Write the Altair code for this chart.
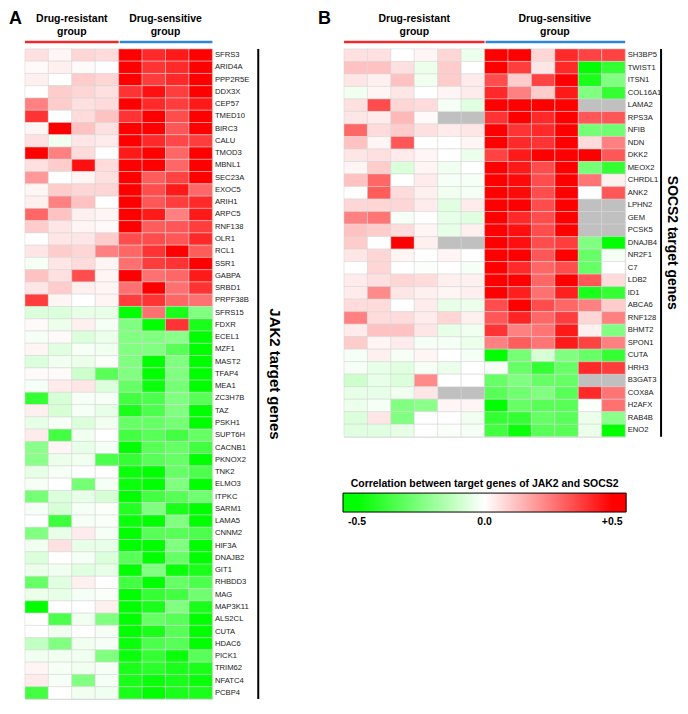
import altair as alt
import pandas as pd

FONT = "Liberation Sans"

# ---------------- Panel A data ----------------
A_genes = ["SFRS3", "ARID4A", "PPP2R5E", "DDX3X", "CEP57", "TMED10", "BIRC3", "CALU", "TMOD3",
           "MBNL1", "SEC23A", "EXOC5", "ARIH1", "ARPC5", "RNF138", "OLR1", "RCL1", "SSR1", "GABPA",
           "SRBD1", "PRPF38B", "SFRS15", "FDXR", "ECEL1", "MZF1", "MAST2", "TFAP4", "MEA1", "ZC3H7B",
           "TAZ", "PSKH1", "SUPT6H", "CACNB1", "PKNOX2", "TNK2", "ELMO3", "ITPKC", "SARM1", "LAMA5",
           "CNNM2", "HIF3A", "DNAJB2", "GIT1", "RHBDD3", "MAG", "MAP3K11", "ALS2CL", "CUTA", "HDAC6",
           "PICK1", "TRIM62", "NFATC4", "PCBP4"]
A_samples = ["R1", "R2", "R3", "R4", "S1", "S2", "S3", "S4"]
A_values = [
    [0.06, 0.02, 0.08, 0.07, 0.50, 0.42, 0.45, 0.50],
    [0.01, 0.03, 0.01, 0.00, 0.50, 0.40, 0.42, 0.50],
    [0.03, 0.00, 0.10, 0.08, 0.50, 0.38, 0.42, 0.50],
    [0.00, 0.10, 0.08, 0.06, 0.40, 0.47, 0.38, 0.50],
    [0.25, 0.10, 0.06, 0.07, 0.50, 0.42, 0.38, 0.45],
    [0.40, 0.00, 0.07, 0.12, 0.40, 0.50, 0.35, 0.50],
    [0.02, 0.50, 0.12, 0.06, 0.50, 0.50, 0.33, 0.50],
    [0.06, -0.03, 0.05, 0.04, 0.50, 0.42, 0.36, 0.38],
    [0.50, 0.25, 0.07, 0.00, 0.45, 0.50, 0.30, 0.50],
    [0.06, 0.10, 0.47, 0.07, 0.50, 0.50, 0.30, 0.50],
    [0.20, 0.00, 0.02, 0.06, 0.50, 0.32, 0.37, 0.50],
    [0.02, 0.10, 0.08, 0.08, 0.50, 0.35, 0.45, 0.30],
    [0.03, 0.25, 0.12, 0.00, 0.50, 0.33, 0.38, 0.42],
    [0.30, 0.12, 0.03, 0.02, 0.50, 0.45, 0.25, 0.45],
    [0.10, 0.05, 0.02, 0.01, 0.50, 0.32, 0.33, 0.38],
    [0.00, 0.05, 0.05, 0.10, 0.35, 0.35, 0.33, 0.42],
    [0.05, 0.10, 0.08, 0.25, 0.30, 0.40, 0.50, 0.32],
    [-0.02, 0.05, 0.07, 0.02, 0.28, 0.38, 0.40, 0.50],
    [0.12, 0.06, 0.35, 0.02, 0.50, 0.28, 0.30, 0.45],
    [0.05, 0.10, 0.03, 0.02, 0.28, 0.50, 0.28, 0.40],
    [0.38, 0.02, 0.00, 0.02, 0.38, 0.40, 0.30, 0.28],
    [-0.07, -0.07, -0.05, -0.05, -0.50, 0.28, -0.45, -0.25],
    [0.01, -0.04, 0.03, -0.02, -0.25, -0.50, 0.40, -0.45],
    [-0.02, 0.01, -0.07, -0.04, -0.25, -0.25, -0.23, -0.50],
    [0.02, -0.06, -0.02, -0.03, -0.25, -0.25, -0.33, -0.50],
    [-0.07, -0.03, -0.04, -0.01, -0.25, -0.50, -0.25, -0.50],
    [0.01, 0.01, -0.10, -0.33, -0.25, -0.50, -0.25, -0.50],
    [-0.02, 0.04, 0.05, -0.07, -0.30, -0.48, -0.27, -0.50],
    [-0.40, -0.08, -0.02, -0.02, -0.37, -0.35, -0.25, -0.33],
    [0.03, -0.08, -0.02, -0.05, -0.45, -0.35, -0.25, -0.50],
    [-0.05, -0.02, -0.07, -0.03, -0.30, -0.30, -0.27, -0.50],
    [0.04, -0.37, -0.03, 0.00, -0.37, -0.33, -0.37, -0.30],
    [-0.23, 0.02, -0.05, -0.02, -0.50, -0.33, -0.30, -0.37],
    [-0.23, -0.04, -0.03, -0.35, -0.40, -0.33, -0.30, -0.50],
    [-0.05, -0.02, 0.00, 0.00, -0.48, -0.50, -0.30, -0.35],
    [-0.02, 0.00, -0.27, -0.02, -0.48, -0.50, -0.25, -0.50],
    [-0.27, -0.07, -0.05, -0.08, -0.50, -0.37, -0.33, -0.28],
    [-0.02, -0.08, -0.02, -0.01, -0.43, -0.25, -0.45, -0.50],
    [0.00, -0.38, -0.02, -0.01, -0.48, -0.50, -0.25, -0.50],
    [-0.25, -0.05, 0.04, -0.02, -0.50, -0.33, -0.33, -0.35],
    [-0.03, 0.06, -0.05, -0.05, -0.50, -0.50, -0.25, -0.50],
    [-0.07, 0.00, -0.02, -0.07, -0.33, -0.50, -0.30, -0.50],
    [-0.04, -0.03, -0.06, -0.05, -0.50, -0.25, -0.48, -0.45],
    [-0.30, -0.06, 0.03, 0.00, -0.37, -0.50, -0.30, -0.35],
    [-0.04, -0.05, -0.02, -0.01, -0.50, -0.40, -0.37, -0.28],
    [-0.50, 0.00, 0.00, 0.03, -0.50, -0.45, -0.25, -0.45],
    [0.00, -0.35, -0.03, -0.25, -0.50, -0.30, -0.33, -0.50],
    [0.00, -0.03, 0.00, -0.02, -0.50, -0.45, -0.33, -0.50],
    [-0.12, -0.25, -0.03, -0.02, -0.48, -0.35, -0.33, -0.50],
    [-0.03, -0.03, -0.03, -0.25, -0.48, -0.40, -0.48, -0.33],
    [0.02, -0.02, -0.03, -0.02, -0.45, -0.42, -0.45, -0.45],
    [0.04, -0.02, -0.25, -0.02, -0.45, -0.48, -0.45, -0.48],
    [-0.37, 0.00, -0.03, -0.03, -0.45, -0.50, -0.45, -0.45],
]

# ---------------- Panel B data (None = missing, grey) ----------------
B_genes = ["SH3BP5", "TWIST1", "ITSN1", "COL16A1", "LAMA2", "RPS3A", "NFIB", "NDN", "DKK2", "MEOX2",
           "CHRDL1", "ANK2", "LPHN2", "GEM", "PCSK5", "DNAJB4", "NR2F1", "C7", "LDB2", "ID1", "ABCA6",
           "RNF128", "BHMT2", "SPON1", "CUTA", "HRH3", "B3GAT3", "COX8A", "H2AFX", "RAB4B", "ENO2"]
B_samples = ["R1", "R2", "R3", "R4", "R5", "R6", "S1", "S2", "S3", "S4", "S5", "S6"]
B_values = [
    [0.06, 0.06, 0.00, 0.02, 0.08, -0.04, 0.50, 0.50, 0.08, 0.42, 0.37, 0.37],
    [0.12, 0.12, 0.06, -0.04, 0.10, 0.00, 0.50, 0.38, 0.05, 0.42, -0.50, -0.40],
    [0.05, 0.03, 0.12, -0.03, 0.10, 0.04, 0.35, 0.10, 0.37, 0.50, -0.45, -0.25],
    [-0.03, 0.02, 0.05, 0.00, 0.02, 0.04, 0.42, 0.25, 0.10, 0.45, -0.25, -0.40],
    [0.06, 0.35, 0.08, 0.07, -0.02, -0.06, 0.50, 0.50, 0.50, 0.50, None, None],
    [0.05, 0.04, 0.14, 0.01, None, None, 0.40, 0.50, 0.42, 0.50, 0.33, 0.33],
    [0.30, 0.07, 0.10, 0.06, 0.04, 0.05, 0.50, 0.40, 0.42, 0.50, -0.27, -0.28],
    [0.12, 0.02, 0.33, 0.00, 0.00, 0.02, 0.50, 0.42, 0.40, 0.50, 0.07, 0.25],
    [0.05, 0.06, 0.04, 0.02, 0.00, -0.04, 0.37, 0.45, 0.50, 0.50, 0.50, 0.33],
    [0.02, 0.10, -0.07, 0.02, -0.03, 0.00, 0.50, 0.45, 0.35, 0.50, -0.27, -0.40],
    [0.12, 0.30, 0.00, 0.04, -0.02, -0.02, 0.50, 0.48, 0.35, 0.50, 0.27, 0.03],
    [0.00, 0.32, 0.07, 0.03, -0.03, -0.02, 0.50, 0.48, 0.35, 0.50, 0.00, 0.33],
    [0.08, 0.08, 0.08, 0.04, -0.06, 0.04, 0.50, 0.50, 0.35, 0.50, None, None],
    [0.25, 0.27, -0.02, 0.00, -0.05, -0.06, 0.50, 0.42, 0.35, 0.50, None, None],
    [0.12, 0.10, 0.07, 0.02, -0.05, 0.03, 0.50, 0.47, 0.35, 0.50, None, None],
    [0.10, 0.00, 0.50, 0.03, None, None, 0.50, 0.47, 0.35, 0.38, -0.25, -0.50],
    [0.05, 0.08, 0.02, 0.00, 0.02, 0.00, 0.50, 0.50, 0.33, 0.50, -0.30, -0.02],
    [0.00, 0.08, 0.00, -0.01, 0.00, -0.02, 0.50, 0.42, 0.30, 0.35, -0.30, 0.00],
    [0.04, 0.06, 0.08, 0.07, 0.03, 0.03, 0.50, 0.50, 0.30, 0.50, 0.33, 0.07],
    [0.04, 0.23, 0.05, 0.03, 0.02, 0.03, 0.50, 0.44, 0.28, 0.44, -0.45, -0.40],
    [0.07, 0.07, 0.00, 0.04, -0.05, -0.04, 0.35, 0.50, 0.35, 0.30, 0.25, 0.10],
    [0.25, 0.07, 0.07, 0.04, 0.08, 0.03, 0.33, 0.43, 0.30, 0.38, 0.08, 0.25],
    [0.04, 0.12, 0.12, 0.05, -0.05, -0.03, 0.40, 0.25, 0.27, 0.45, 0.03, -0.25],
    [0.10, 0.02, 0.04, -0.02, -0.02, -0.04, 0.25, 0.32, 0.27, 0.45, 0.37, 0.25],
    [-0.02, 0.03, -0.02, 0.02, 0.00, -0.02, -0.50, -0.27, -0.08, -0.25, -0.30, -0.40],
    [-0.02, -0.05, -0.06, -0.02, -0.04, 0.00, -0.02, -0.30, -0.40, -0.30, 0.42, 0.38],
    [-0.10, -0.05, -0.07, 0.23, 0.00, 0.00, -0.30, -0.25, -0.30, -0.30, None, None],
    [-0.05, -0.05, -0.03, 0.05, None, None, -0.33, -0.28, -0.25, -0.33, 0.42, 0.27],
    [-0.04, -0.02, -0.25, -0.23, 0.02, 0.02, -0.50, -0.30, -0.33, -0.33, -0.01, 0.28],
    [-0.07, 0.05, -0.25, 0.00, 0.00, -0.03, -0.40, -0.40, -0.30, -0.33, -0.04, -0.23],
    [-0.06, -0.06, -0.05, 0.00, -0.01, -0.02, -0.37, -0.48, -0.33, -0.33, -0.04, -0.50],
]

group_line1 = ["Drug-resistant", "Drug-sensitive"]
group_line2 = ["group", "group"]
legend_title = "Correlation between target genes of JAK2 and SOCS2"
legend_ticks = [-0.5, 0.0, 0.5]

color_scale = alt.Scale(domain=[-0.555, -0.5, 0, 0.5, 0.555],
                        range=["#00ff00", "#00ff00", "#ffffff", "#ff0000", "#ff0000"],
                        interpolate="rgb", clamp=True)

legend = alt.Legend(
    orient="none", legendX=319, legendY=431, direction="horizontal",
    title=legend_title, titleAnchor="middle", titleOrient="top", titleFontSize=10.5,
    titleFontWeight="bold", titleColor="black", titlePadding=4, titleFont=FONT, titleLimit=600,
    gradientLength=284, gradientThickness=19, gradientStrokeColor="black", gradientStrokeWidth=1,
    values=legend_ticks, labelFontSize=10.5, labelFontWeight="bold", labelColor="black",
    labelFont=FONT, labelOffset=5,
    labelExpr="datum.value > 0 ? '+' + format(datum.value, '.1f') : (datum.value < 0 ? '-' + format(-datum.value, '.1f') : '0.0')",
)


def long_df(genes, samples, values):
    rows = []
    for g, vals in zip(genes, values):
        for s, v in zip(samples, vals):
            rows.append({"gene": g, "sample": s, "v": v})
    return pd.DataFrame(rows)


one = pd.DataFrame({"k": [0]})


def panel(genes, samples, values, n_res, w, h, letter, letter_x, side_title, title_size, line_x, title_x):
    df = long_df(genes, samples, values)
    cw = w / len(samples)
    X = alt.X("sample:N", sort=samples, axis=None, scale=alt.Scale(paddingInner=0, paddingOuter=0))
    Y = alt.Y("gene:N", sort=genes, scale=alt.Scale(paddingInner=0, paddingOuter=0),
              axis=alt.Axis(orient="right", ticks=False, domain=False, labelPadding=2,
                            labelFontSize=7.7, labelColor="#222222", labelFont=FONT, title=None))
    base = alt.Chart(df)
    grey = base.transform_filter("!isValid(datum.v)").mark_rect(
        color="#c0c0c0", stroke="#d4d4d4", strokeWidth=0.5).encode(x=X, y=Y)
    heat = base.transform_filter("isValid(datum.v)").mark_rect(
        stroke="#d4d4d4", strokeWidth=0.5).encode(
        x=X, y=Y, color=alt.Color("v:Q", scale=color_scale, legend=legend))

    ann = alt.Chart(one)
    res_w = n_res * cw
    layers = [grey, heat]
    centers = [res_w / 2, res_w + (w - res_w) / 2]
    for i in range(2):
        for txt, yy in ((group_line1[i], -27), (group_line2[i], -14)):
            layers.append(ann.mark_text(fontSize=10.5, fontWeight="bold", font=FONT,
                                        baseline="alphabetic", color="black").encode(
                x=alt.value(centers[i]), y=alt.value(yy), text=alt.value(txt)))
    layers.append(ann.mark_rule(color="#ee2a2a", strokeWidth=2.5).encode(
        x=alt.value(0), x2=alt.value(res_w), y=alt.value(-7)))
    layers.append(ann.mark_rule(color="#2f86d6", strokeWidth=2.5).encode(
        x=alt.value(res_w + 1), x2=alt.value(w), y=alt.value(-7)))
    layers.append(ann.mark_rule(color="black", strokeWidth=2).encode(
        x=alt.value(line_x), y=alt.value(0), y2=alt.value(h)))
    layers.append(ann.mark_text(angle=90, fontSize=title_size, fontWeight="bold", font=FONT,
                                baseline="middle", align="center", color="black").encode(
        x=alt.value(title_x), y=alt.value(h / 2), text=alt.value(side_title)))
    layers.append(ann.mark_text(fontSize=18, fontWeight="bold", font=FONT, align="left",
                                baseline="top", color="black").encode(
        x=alt.value(letter_x), y=alt.value(-39), text=alt.value(letter)))
    return alt.layer(*layers).properties(width=w, height=h)


pA = panel(A_genes, A_samples, A_values, 4, 188, 652, "A", -16, "JAK2 target genes", 15, 234, 251)
pB = panel(B_genes, B_samples, B_values, 6, 282, 389, "B", -26, "SOCS2 target genes", 14, 318, 329)

chart = alt.hconcat(pA, pB, spacing=132, bounds="flush", padding=0).configure_view(
    stroke=None).configure(font=FONT)

chart.save("out.html", embed_options={"renderer": "svg", "actions": False})
